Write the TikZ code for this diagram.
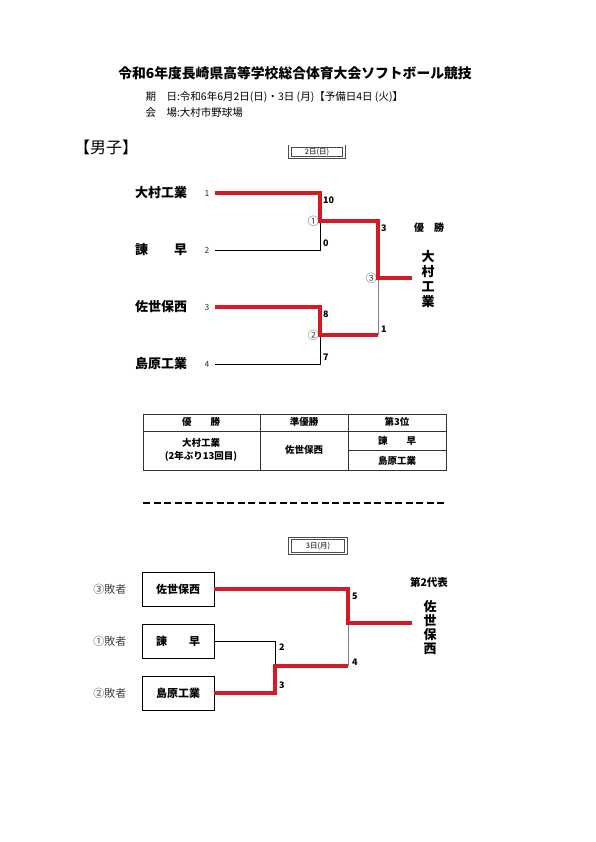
\documentclass[tikz,border=0pt]{standalone}
\usepackage{fontspec}
\setmainfont{Noto Sans CJK JP}
\usetikzlibrary{positioning}
\definecolor{winred}{RGB}{215,25,35}
\tikzset{
  team/.style={font=\fontsize{13}{13}\selectfont\bfseries, anchor=west, inner sep=0pt},
  seed/.style={font=\fontsize{8.5}{8.5}\selectfont, text=black!80, inner sep=0pt},
  score/.style={font=\fontsize{9}{9}\selectfont\bfseries, anchor=west, inner sep=0pt},
  game/.style={font=\fontsize{11}{11}\selectfont, text=black!75, inner sep=0pt},
  win/.style={draw=winred, line width=3.4pt},
  lose/.style={draw=black, line width=0.9pt},
  pass/.style={draw=gray, line width=0.9pt},
  datebox/.style={draw=black!70, double=white, double distance=1.5pt, line width=0.8pt, minimum width=54pt, minimum height=11.5pt, font=\fontsize{7.5}{7.5}\selectfont, inner sep=0pt},
  teambox/.style={draw, line width=0.9pt, minimum width=72pt, minimum height=34pt, font=\fontsize{11}{11}\selectfont\bfseries, inner sep=0pt},
  cell/.style={font=\fontsize{9.5}{12.5}\selectfont\bfseries, align=center, inner sep=0pt},
  winner/.style={font=\fontsize{13}{15}\selectfont\bfseries, align=center, inner sep=0pt},
  tbl/.style={draw=black!80, line width=0.8pt}
}

\begin{document}
\begin{tikzpicture}[x=1pt, y=-1pt]
\useasboundingbox[fill=white] (0,0) rectangle (596,842);

% heading
\node[font=\fontsize{13.8}{13.8}\selectfont\bfseries] (title) at (295,73) {令和6年度長崎県高等学校総合体育大会ソフトボール競技};
\node[font=\fontsize{10.5}{10.5}\selectfont, anchor=west] (date) at (142,97) {期\quad 日:令和6年6月2日(日)・3日 (月)【予備日4日 (火)】};
\node[font=\fontsize{10.5}{10.5}\selectfont, anchor=west] (place) at (142,113) {会\quad 場:大村市野球場};
\node[font=\fontsize{16}{16}\selectfont, anchor=west, inner sep=0pt] (boys) at (74,147) {【男子】};

%% day 1
\node[datebox] (day1) at (317,152) {2日(日)};

\node[team] (t1) at (135,193) {大村工業};
\node[team] (t2) at (135,250) {諫\quad\quad 早};
\node[team] (t3) at (135,307) {佐世保西};
\node[team] (t4) at (135,364) {島原工業};
\node[seed] (s1) at (207,193) {1};
\node[seed] (s2) at (207,250) {2};
\node[seed] (s3) at (207,307) {3};
\node[seed] (s4) at (207,364) {4};

\coordinate (j1) at (320,221);
\coordinate (j2) at (320,335);
\coordinate (j3) at (378,278);
\coordinate (champ) at (412,278);

\draw[lose] ([xshift=8pt]s2.center) -| (j1);
\draw[lose] ([xshift=8pt]s4.center) -| (j2);
\draw[pass] (j2 -| j3) -- (j3);
\draw[win] ([xshift=8pt]s1.center) -| (j1) -| (j3) -- (champ);
\draw[win] ([xshift=8pt]s3.center) -| (j2) -- (j2 -| j3);

\node[game, left=1pt of j1] (g1) {①};
\node[game, left=1pt of j2] (g2) {②};
\node[game, left=1pt of j3] (g3) {③};

\node[score] (sc1) at (323,200) {10};
\node[score] (sc2) at (323,243) {0};
\node[score] (sc3) at (323,314) {8};
\node[score] (sc4) at (323,357) {7};
\node[score] (sc5) at (381,228) {3};
\node[score] (sc6) at (381,329) {1};

\node[font=\fontsize{10}{10}\selectfont\bfseries] (champlbl) at (429,228) {優\quad 勝};
\node[winner] (champname) at (428,279) {大\\村\\工\\業};

% results table
\draw[tbl] (143,414) rectangle (446,470);
\draw[tbl] (143,431) -- (446,431);
\draw[tbl] (260,414) -- (260,470);
\draw[tbl] (348,414) -- (348,470);
\draw[tbl] (348,450) -- (446,450);
\node[cell] (h1) at (201,422) {優\quad\quad 勝};
\node[cell] (h2) at (304,422) {準優勝};
\node[cell] (h3) at (397,422) {第3位};
\node[cell] (r1) at (201,450) {大村工業\\(2年ぶり13回目)};
\node[cell] (r2) at (304,450) {佐世保西};
\node[cell] (r3) at (397,441) {諫\quad\quad 早};
\node[cell] (r4) at (397,461) {島原工業};

\draw[line width=2.2pt, dash pattern=on 7pt off 3.5pt] (143,503) -- (446,503);

%% day 2
\node[datebox, minimum width=56pt, minimum height=15pt] (day2) at (318,546) {3日(月)};

\node[teambox] (b1) at (178,589) {佐世保西};
\node[teambox] (b2) at (178,641) {諫\quad\quad 早};
\node[teambox] (b3) at (178,693) {島原工業};
\node[game, left=15pt of b1] (l1) {③敗者};
\node[game, left=15pt of b2] (l2) {①敗者};
\node[game, left=15pt of b3] (l3) {②敗者};

\coordinate (k1) at (275,666);
\coordinate (k2) at (348,623);
\coordinate (rep) at (412,623);

\draw[lose] (b2.east) -| (k1);
\draw[pass] (k1 -| k2) -- (k2);
\draw[win] (b3.east) -| (k1) -- (k1 -| k2);
\draw[win] (b1.east) -| (k2) -- (rep);

\node[score] (sd1) at (352,596) {5};
\node[score] (sd2) at (352,662) {4};
\node[score] (sd3) at (279,647) {2};
\node[score] (sd4) at (279,685) {3};

\node[font=\fontsize{10.5}{10.5}\selectfont\bfseries] (replbl) at (429,582) {第2代表};
\node[winner, font=\fontsize{13}{14}\selectfont\bfseries] (repname) at (430,628) {佐\\世\\保\\西};
\end{tikzpicture}
\end{document}
